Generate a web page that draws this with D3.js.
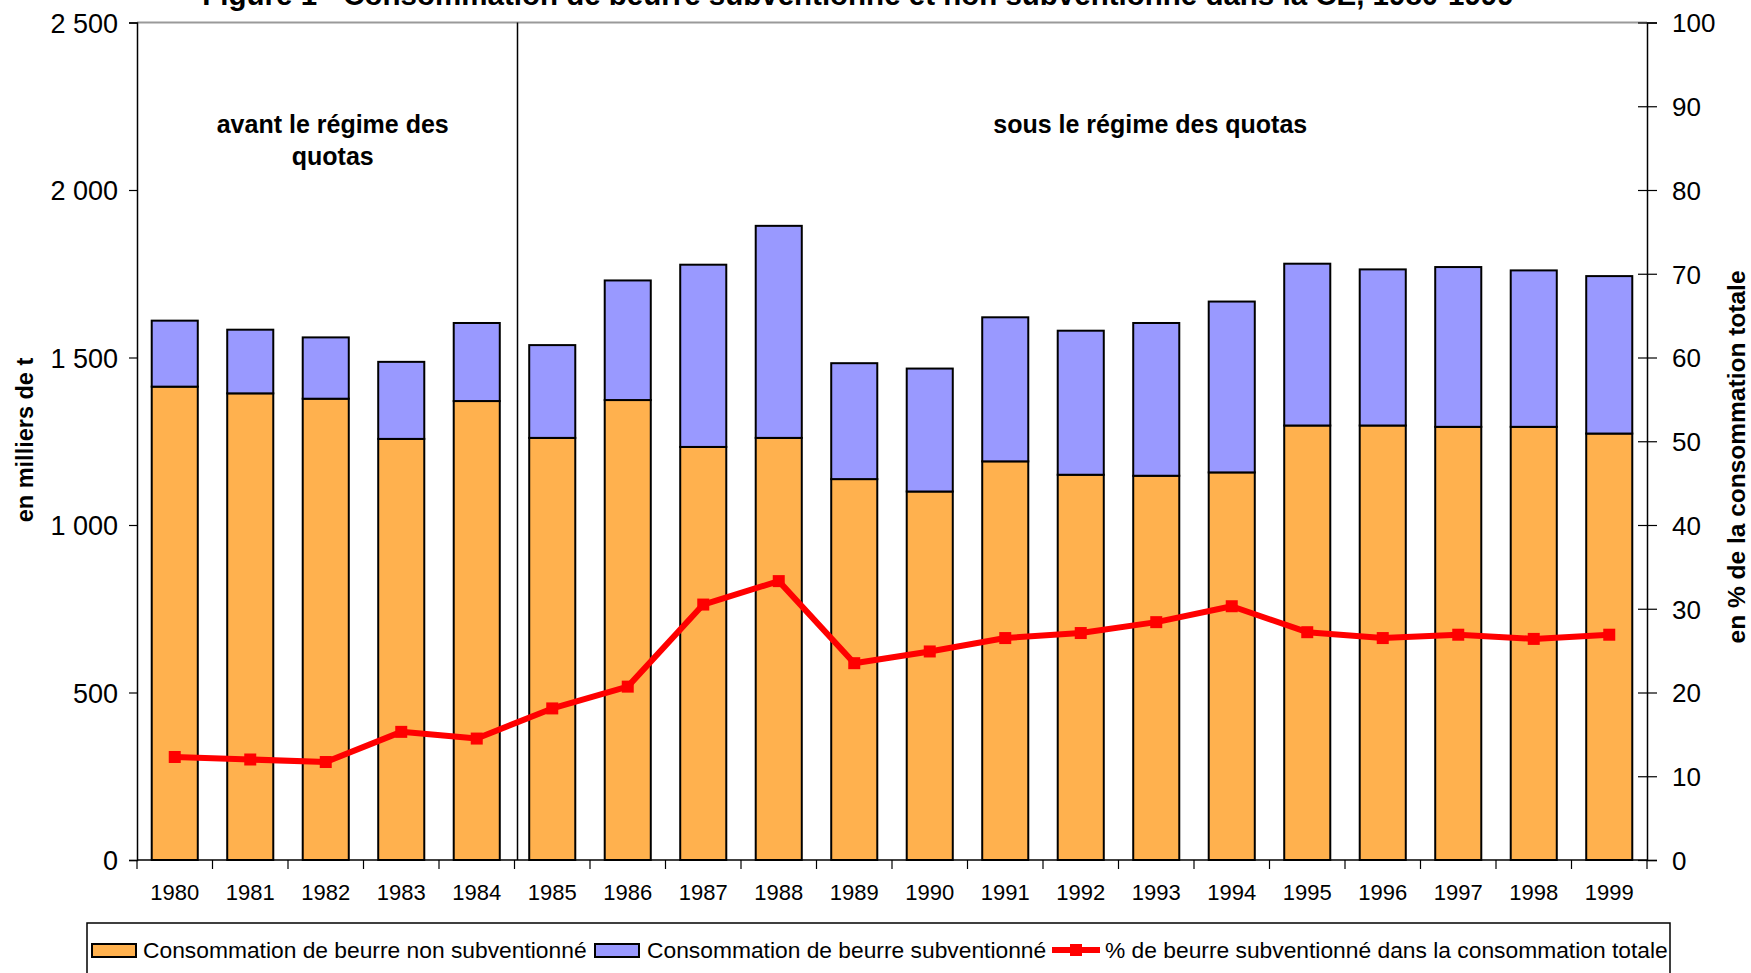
<!DOCTYPE html>
<html>
<head>
<meta charset="utf-8">
<script src="https://cdn.jsdelivr.net/npm/d3@7"></script>
<style>
  body { margin: 0; background: #fff; }
  svg text { font-family: "Liberation Sans", Arial, sans-serif; }
</style>
</head>
<body>
<div id="chart"></div>
<script>
// data
let years = ["1980", "1981", "1982", "1983", "1984", "1985", "1986", "1987", "1988", "1989",
  "1990", "1991", "1992", "1993", "1994", "1995", "1996", "1997", "1998", "1999"];
let non_subsidised = [1413, 1393, 1377, 1257, 1370, 1260, 1373, 1233, 1260, 1137,
  1100, 1190, 1150, 1147, 1157, 1297, 1297, 1293, 1293, 1273];
let subsidised = [197, 190, 183, 230, 233, 277, 357, 544, 633, 346,
  367, 430, 430, 456, 510, 483, 466, 477, 467, 470];
let pct_subsidised = [12.3, 12.0, 11.7, 15.3, 14.5, 18.1, 20.7, 30.5, 33.3, 23.5,
  24.9, 26.5, 27.1, 28.4, 30.3, 27.2, 26.5, 26.9, 26.4, 26.9];
let left_ticks = [0, 500, 1000, 1500, 2000, 2500];
let right_ticks = [0, 10, 20, 30, 40, 50, 60, 70, 80, 90, 100];

let title = "Figure 1 - Consommation de beurre subventionné et non subventionné dans la CE, 1980-1999";
let legend_labels = [
  "Consommation de beurre non subventionné",
  "Consommation de beurre subventionné",
  "% de beurre subventionné dans la consommation totale",
];

let chart_width = 1751;
let chart_height = 973;
let plot = { left: 137, right: 1647, top: 22.5, bottom: 860 };

let orange = "#FFB14E";
let blue = "#9999FF";
let red = "#FF0000";

let svg = d3
  .select("#chart")
  .append("svg")
  .attr("width", chart_width)
  .attr("height", chart_height);

//scales
let x = d3.scaleBand().domain(years).range([plot.left, plot.right]).paddingInner(0.39).paddingOuter(0.195);
let y = d3.scaleLinear().domain([0, 2500]).range([plot.bottom, plot.top]);
let y_pct = d3.scaleLinear().domain([0, 100]).range([plot.bottom, plot.top]);
let step = x.step();

//stack the two bar series
let rows = years.map(function (yr, i) {
  return { year: yr, non: non_subsidised[i], sub: subsidised[i] };
});
let stacked = d3.stack().keys(["non", "sub"])(rows);
let colors = { non: orange, sub: blue };

//top border of the plot area
svg
  .append("line")
  .attr("x1", plot.left)
  .attr("x2", plot.right)
  .attr("y1", plot.top)
  .attr("y2", plot.top)
  .attr("stroke", "#9a9a9a")
  .attr("stroke-width", 2);

//bars
svg
  .selectAll("g.layer")
  .data(stacked)
  .enter()
  .append("g")
  .attr("class", "layer")
  .attr("fill", function (d) {
    return colors[d.key];
  })
  .selectAll("rect")
  .data(function (d) {
    return d;
  })
  .enter()
  .append("rect")
  .attr("x", function (d) {
    return x(d.data.year);
  })
  .attr("width", x.bandwidth())
  .attr("y", function (d) {
    return y(d[1]);
  })
  .attr("height", function (d) {
    return y(d[0]) - y(d[1]);
  })
  .attr("stroke", "#000")
  .attr("stroke-width", 2);

//separator between the two periods
let sep_x = plot.left + 5 * step + 3;
svg
  .append("line")
  .attr("x1", sep_x)
  .attr("x2", sep_x)
  .attr("y1", plot.top)
  .attr("y2", plot.bottom)
  .attr("stroke", "#000")
  .attr("stroke-width", 1.5);

//left axis
let left_axis = d3
  .axisLeft(y)
  .tickValues(left_ticks)
  .tickSize(8)
  .tickPadding(11)
  .tickFormat(function (d) {
    return d3.format(",")(d).replace(",", " ");
  });
let gl = svg.append("g").attr("transform", "translate(" + plot.left + ",0)").call(left_axis);
gl.select(".domain").attr("stroke", "#000").attr("stroke-width", 1.5);
gl.selectAll(".tick line").attr("stroke", "#000").attr("stroke-width", 1.2);
gl.selectAll(".tick text").attr("font-size", 27).attr("fill", "#000").attr("dy", "0.36em");

//right axis, ticks cross the line
let right_axis = d3.axisRight(y_pct).tickValues(right_ticks).tickSize(10).tickPadding(15);
let gr = svg.append("g").attr("transform", "translate(" + plot.right + ",0)").call(right_axis);
gr.select(".domain").attr("stroke", "#000").attr("stroke-width", 1.5);
gr.selectAll(".tick line").attr("x1", -9).attr("stroke", "#000").attr("stroke-width", 1.2);
gr.selectAll(".tick text").attr("font-size", 26).attr("fill", "#000").attr("dy", "0.36em");

//bottom axis, ticks sit between the categories
let gb = svg.append("g").attr("transform", "translate(0," + plot.bottom + ")");
gb.append("line")
  .attr("x1", plot.left)
  .attr("x2", plot.right)
  .attr("stroke", "#000")
  .attr("stroke-width", 1.5);
gb.selectAll("line.tick")
  .data(d3.range(years.length + 1))
  .enter()
  .append("line")
  .attr("class", "tick")
  .attr("x1", function (i) {
    return plot.left + i * step;
  })
  .attr("x2", function (i) {
    return plot.left + i * step;
  })
  .attr("y1", 0)
  .attr("y2", 9)
  .attr("stroke", "#000")
  .attr("stroke-width", 1.2);
gb.selectAll("text")
  .data(years)
  .enter()
  .append("text")
  .attr("x", function (d) {
    return x(d) + x.bandwidth() / 2;
  })
  .attr("y", 40)
  .attr("text-anchor", "middle")
  .attr("font-size", 22)
  .text(function (d) {
    return d;
  });

//percentage line with square markers
let line = d3
  .line()
  .x(function (d, i) {
    return x(years[i]) + x.bandwidth() / 2;
  })
  .y(function (d) {
    return y_pct(d);
  });

svg
  .append("path")
  .datum(pct_subsidised)
  .attr("d", line)
  .attr("fill", "none")
  .attr("stroke", red)
  .attr("stroke-width", 6)
  .attr("stroke-linejoin", "round");

svg
  .selectAll("rect.marker")
  .data(pct_subsidised)
  .enter()
  .append("rect")
  .attr("class", "marker")
  .attr("x", function (d, i) {
    return x(years[i]) + x.bandwidth() / 2 - 6;
  })
  .attr("y", function (d) {
    return y_pct(d) - 6;
  })
  .attr("width", 12)
  .attr("height", 12)
  .attr("fill", red);

//period annotations
let note = svg.append("g").attr("font-size", 25).attr("font-weight", "bold").attr("text-anchor", "middle");
let left_note_x = x("1982") + x.bandwidth() / 2 + 7;
note.append("text").attr("x", left_note_x).attr("y", 133).text("avant le régime des");
note.append("text").attr("x", left_note_x).attr("y", 165).text("quotas");
note
  .append("text")
  .attr("x", x("1993") + x.bandwidth() / 2 - 6)
  .attr("y", 133)
  .text("sous le régime des quotas");

//axis titles
svg
  .append("text")
  .attr("transform", "translate(33,440) rotate(-90)")
  .attr("text-anchor", "middle")
  .attr("font-size", 23.5)
  .attr("font-weight", "bold")
  .text("en milliers de t");

svg
  .append("text")
  .attr("transform", "translate(1745,457) rotate(-90)")
  .attr("text-anchor", "middle")
  .attr("font-size", 24.5)
  .attr("font-weight", "bold")
  .text("en % de la consommation totale");

//title, cut by the top edge like the original
svg
  .append("text")
  .attr("x", 858)
  .attr("y", 5)
  .attr("text-anchor", "middle")
  .attr("font-size", 29.5)
  .attr("font-weight", "bold")
  .text(title);

//legend
let legend = svg.append("g");
legend
  .append("rect")
  .attr("x", 87)
  .attr("y", 923)
  .attr("width", 1583)
  .attr("height", 70)
  .attr("fill", "#fff")
  .attr("stroke", "#000")
  .attr("stroke-width", 1.5);

let swatch_x = [92, 595];
let text_x = [143, 647, 1105];
legend
  .selectAll("rect.swatch")
  .data([orange, blue])
  .enter()
  .append("rect")
  .attr("class", "swatch")
  .attr("x", function (d, i) {
    return swatch_x[i];
  })
  .attr("y", 944)
  .attr("width", 44)
  .attr("height", 13)
  .attr("fill", function (d) {
    return d;
  })
  .attr("stroke", "#000")
  .attr("stroke-width", 2);

legend
  .append("line")
  .attr("x1", 1052)
  .attr("x2", 1100)
  .attr("y1", 950)
  .attr("y2", 950)
  .attr("stroke", red)
  .attr("stroke-width", 6);
legend
  .append("rect")
  .attr("x", 1070)
  .attr("y", 944)
  .attr("width", 12)
  .attr("height", 12)
  .attr("fill", red);

legend
  .selectAll("text")
  .data(legend_labels)
  .enter()
  .append("text")
  .attr("x", function (d, i) {
    return text_x[i];
  })
  .attr("y", 958)
  .attr("font-size", 22.8)
  .text(function (d) {
    return d;
  });
</script>
</body>
</html>
